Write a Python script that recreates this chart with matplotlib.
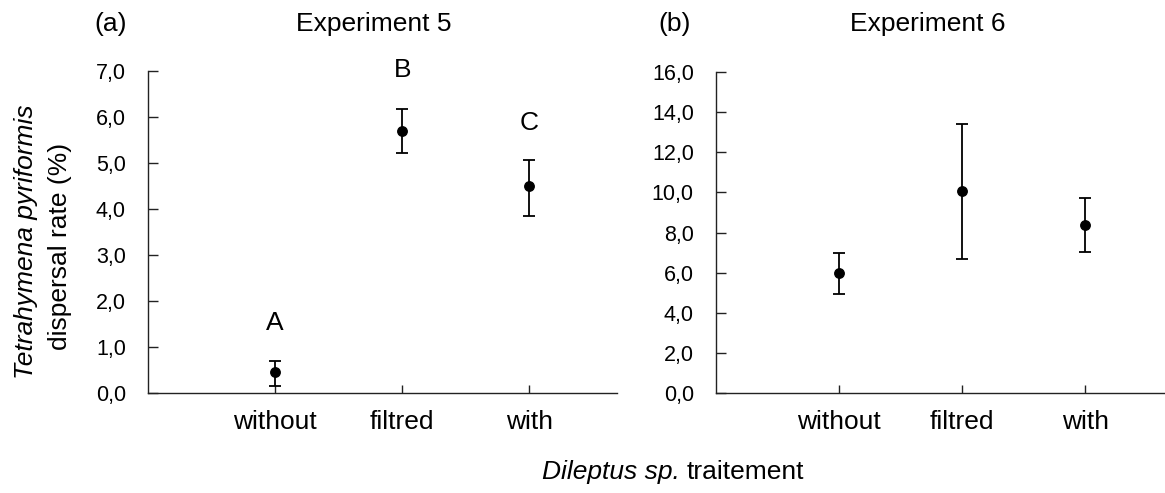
import matplotlib
matplotlib.use("Agg")
import matplotlib.pyplot as plt

plt.rcParams['font.family'] = ['Liberation Sans', 'DejaVu Sans']

categories = ["without", "filtred", "with"]

exp5_mean = [0.46, 5.70, 4.49]
exp5_low = [0.16, 5.22, 3.84]
exp5_high = [0.70, 6.17, 5.06]
exp5_letters = ["A", "B", "C"]
exp5_letter_y = [1.53, 7.02, 5.88]
exp5_yticks = [0, 1, 2, 3, 4, 5, 6, 7]

exp6_mean = [5.99, 10.08, 8.39]
exp6_low = [4.95, 6.70, 7.05]
exp6_high = [6.98, 13.39, 9.73]
exp6_yticks = [0, 2, 4, 6, 8, 10, 12, 14, 16]

W, H = 1165, 493
fig = plt.figure(figsize=(W / 100, H / 100), dpi=100)


def px_axes(x0, x1, ytop, ybot):
    return fig.add_axes([x0 / W, (H - ybot) / H, (x1 - x0) / W, (ybot - ytop) / H])


def style(ax, ymax, yticks):
    xs = [1, 2, 3]
    ax.set_xlim(0, 3.69)
    ax.set_ylim(0, ymax)
    ax.set_xticks(xs)
    ax.set_xticklabels(categories, fontsize=19)
    ax.set_yticks(yticks)
    ax.set_yticklabels([f"{v:.1f}".replace(".", ",") for v in yticks], fontsize=15.5)
    for s in ["top", "right"]:
        ax.spines[s].set_visible(False)
    for s in ["left", "bottom"]:
        ax.spines[s].set_color("#222222")
        ax.spines[s].set_linewidth(1.0)
    ax.tick_params(axis="y", direction="in", length=7, width=1, color="#222222", pad=16)
    ax.tick_params(axis="x", direction="in", length=6, width=1, color="#222222", pad=12)
    ax.patch.set_alpha(0)


def draw(ax, mean, low, high):
    xs = [1, 2, 3]
    yerr = [[m - l for m, l in zip(mean, low)], [h - m for m, h in zip(mean, high)]]
    ax.errorbar(xs, mean, yerr=yerr, fmt="o", color="black", markersize=6.8,
                capsize=4.3, elinewidth=1.3, capthick=1.3, clip_on=False, zorder=3)


ax1 = px_axes(148, 617, 71, 393)
style(ax1, 7, exp5_yticks)
draw(ax1, exp5_mean, exp5_low, exp5_high)
for i, (lab, ly) in enumerate(zip(exp5_letters, exp5_letter_y)):
    ax1.text(i + 1, ly, lab, ha="center", va="center", fontsize=19, clip_on=False)

ax2 = px_axes(716, 1170, 72, 393)
style(ax2, 16, exp6_yticks)
draw(ax2, exp6_mean, exp6_low, exp6_high)


def ftext(x, y, s, **kw):
    fig.text(x / W, 1 - y / H, s, **kw)


ftext(111, 24, "(a)", ha="center", va="center", fontsize=19)
ftext(374, 24, "Experiment 5", ha="center", va="center", fontsize=19)
ftext(675, 24, "(b)", ha="center", va="center", fontsize=19)
ftext(928, 24, "Experiment 6", ha="center", va="center", fontsize=19)

ftext(26, 242, "Tetrahymena pyriformis", ha="center", va="center", rotation=90,
      fontsize=19, style="italic")
ftext(60, 246, "dispersal rate (%)", ha="center", va="center", rotation=90, fontsize=19)

ftext(680, 472, "Dileptus sp.", ha="right", va="center", fontsize=19, style="italic")
ftext(687, 472, "traitement", ha="left", va="center", fontsize=19)

fig.savefig("out.png", dpi=100)
